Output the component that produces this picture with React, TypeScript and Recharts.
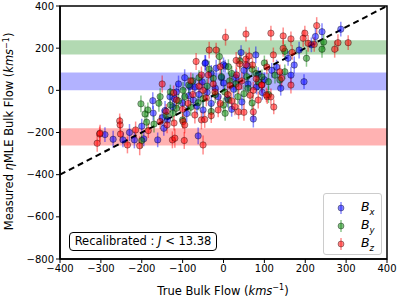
import React from 'react';
import {
  ComposedChart,
  Scatter,
  ErrorBar,
  XAxis,
  YAxis,
  ReferenceArea,
  ReferenceLine,
} from 'recharts';

const bxPoints: [number, number, number][] = [
  [-290, -210, 35], [-270, -232, 40], [-246, -235, 35], [-218, -235, 40], [-195, -230, 35],
  [-161, -235, 35], [-173, -49, 40], [-172, -108, 35], [-143, -96, 45], [-131, -30, 40],
  [-146, -180, 35], [-137, -140, 40], [-44, 131, 35], [-18, 105, 40], [59, 116, 35],
  [4, 115, 30], [-82, 19, 40], [-70, 15, 35], [-115, -8, 40], [81, 16, 35],
  [-52, 40, 40], [-74, -46, 35], [-30, -62, 40], [-50, -93, 45], [-124, -78, 35],
  [-62, -216, 40], [-13, -30, 35], [241, 278, 40], [287, 290, 35], [225, 255, 40],
  [215, 216, 35], [185, 191, 40], [158, 152, 35], [173, 120, 40], [197, 41, 35],
  [165, 72, 40], [118, 95, 35], [73, -136, 40], [-45, 128, 40], [43, 179, 35],
  [79, 168, 40], [0, 121, 35], [-100, -60, 40], [-20, 10, 35], [30, 60, 40],
  [100, 50, 35], [-60, -20, 35], [10, -40, 40], [60, 30, 35], [-90, -110, 40],
  [130, 110, 35], [-30, 80, 40], [20, -90, 35], [-150, -130, 40], [-200, -170, 35],
  [-230, -200, 40], [50, 95, 35], [-110, 30, 40], [140, 10, 35], [-5, 60, 40],
  [-85, -25, 40], [-40, -10, 35], [25, 5, 40], [45, -55, 35], [-95, 60, 40],
  [85, 75, 35], [-65, -75, 40], [0, 35, 35], [-120, -40, 40], [95, -10, 35],
];

const byPoints: [number, number, number][] = [
  [-200, -238, 35], [-202, -64, 40], [-185, -93, 35], [-192, -112, 40], [-188, -151, 35],
  [-158, -61, 40], [-130, -8, 35], [12, 112, 35], [-99, 0, 40], [3, -8, 35],
  [50, -16, 40], [-25, 57, 35], [-5, 65, 40], [57, 65, 35], [-95, -30, 40],
  [-62, -59, 35], [12, -46, 40], [4, -109, 35], [-124, -109, 40], [245, 229, 35],
  [241, 195, 40], [150, 185, 35], [203, 152, 40], [150, 88, 35], [126, 72, 40],
  [94, 64, 35], [110, 41, 40], [138, 49, 35], [-80, -80, 40], [-40, 20, 35],
  [30, 30, 40], [80, 80, 35], [-110, -50, 35], [-20, -20, 40], [60, 10, 35],
  [-140, -120, 40], [100, 130, 35], [-60, 60, 35], [-30, -100, 40], [20, 80, 35],
  [-170, -160, 40], [70, -60, 35], [-100, -140, 35], [40, 140, 40], [-75, 45, 35],
  [110, -20, 40], [-130, -70, 35], [-10, 160, 40], [-50, -40, 40], [35, -30, 35],
  [-85, 25, 40], [15, 45, 35], [85, 40, 40], [-115, -85, 35], [-35, 100, 40],
  [70, 100, 35], [-155, -30, 40], [0, -70, 35],
];

const bzPoints: [number, number, number][] = [
  [-150, 30, 40], [-254, -145, 35], [-253, -164, 40], [-303, -207, 35], [-309, -251, 40],
  [-235, -259, 40], [-252, -207, 35], [-215, -188, 40], [-205, -263, 45], [-184, -191, 35],
  [-125, -235, 40], [-155, -148, 35], [-138, -164, 40], [-121, -155, 35], [-67, 137, 40],
  [-8, 112, 35], [40, 125, 40], [71, 120, 35], [-54, 73, 40], [-122, -12, 35],
  [-50, 0, 40], [-21, -8, 35], [16, 24, 40], [37, 17, 35], [73, 0, 40],
  [65, -23, 35], [-37, 73, 40], [32, 73, 35], [-115, -46, 40], [-87, -62, 35],
  [-42, -36, 40], [-8, -62, 35], [28, -78, 40], [37, -102, 35], [50, -104, 40],
  [-13, -93, 35], [-70, -117, 40], [-54, -140, 45], [-46, -138, 40], [-99, -148, 35],
  [-95, -164, 40], [-119, -227, 45], [-96, -238, 40], [-50, -259, 45], [228, 307, 40],
  [116, 271, 35], [146, 258, 40], [199, 271, 35], [195, 247, 40], [165, 244, 35],
  [207, 223, 40], [222, 218, 35], [280, 226, 40], [305, 226, 35], [272, 195, 40],
  [168, 180, 35], [146, 199, 40], [122, 168, 35], [142, 57, 40], [138, 88, 35],
  [165, 25, 40], [106, 111, 35], [94, 25, 40], [107, -30, 35], [85, -46, 40],
  [123, -79, 35], [116, -31, 40], [105, -22, 35], [73, -102, 40], [93, 26, 35],
  [5, 252, 40], [55, 267, 35], [-35, 191, 40], [-18, 191, 35], [31, 142, 40],
  [55, 148, 35], [63, 163, 40], [55, 121, 35], [-302, -203, 40], [-75, -20, 40],
  [-25, 30, 35], [10, -20, 40], [-100, -90, 35], [45, 45, 40], [-60, 20, 35],
  [20, -50, 40], [-140, -100, 35], [80, 55, 40], [-30, -120, 35], [-80, 45, 40],
];

// horizontal bands [low, high]
const bzBand = [-262, -180];
const bxBand = [0, 85];
const byBand = [170, 238];

const xTicks = [-400, -300, -200, -100, 0, 100, 200, 300, 400];
const yTicks = [-800, -600, -400, -200, 0, 200, 400];

const toRows = (pts: [number, number, number][]) => pts.map(([x, y, err]) => ({ x, y, err }));

const FONT = '"DejaVu Sans", sans-serif';
const fmt = (v: number) => String(v).replace('-', '\u2212');

const dot = (color: string) => (props: any) => (
  <circle
    cx={props.cx}
    cy={props.cy}
    r={3.2}
    fill={color}
    fillOpacity={0.5}
    stroke="#000"
    strokeOpacity={0.45}
    strokeWidth={0.8}
  />
);

const series = [
  { name: 'x', color: '#0000ff', bar: 'rgba(0,0,255,0.45)', data: toRows(bxPoints) },
  { name: 'y', color: '#008000', bar: 'rgba(0,128,0,0.45)', data: toRows(byPoints) },
  { name: 'z', color: '#ff0000', bar: 'rgba(255,0,0,0.45)', data: toRows(bzPoints) },
];

export default function App() {
  return (
    <div style={{ position: 'relative', width: 399, height: 299, fontFamily: FONT, background: '#fff' }}>
      <style>{`body{margin:0}`}</style>
      <ComposedChart width={399} height={299} margin={{ top: 6, right: 12, bottom: 15, left: 10 }}>
        <XAxis
          type="number"
          dataKey="x"
          domain={[-400, 400]}
          ticks={xTicks}
          allowDataOverflow
          tickFormatter={fmt}
          tickSize={4}
          height={25}
          axisLine={{ stroke: '#000', strokeWidth: 1.5 }}
          tickLine={{ stroke: '#000' }}
          tick={{ fill: '#000', fontSize: 10, fontFamily: FONT }}
        />
        <YAxis
          type="number"
          dataKey="y"
          domain={[-800, 400]}
          ticks={yTicks}
          allowDataOverflow
          tickFormatter={fmt}
          tickSize={4}
          width={50}
          axisLine={{ stroke: '#000', strokeWidth: 1.5 }}
          tickLine={{ stroke: '#000' }}
          tick={{ fill: '#000', fontSize: 10, fontFamily: FONT }}
        />
        <ReferenceArea y1={byBand[0]} y2={byBand[1]} x1={-400} x2={400} fill="#008000" fillOpacity={0.3} stroke="none" />
        <ReferenceArea y1={bxBand[0]} y2={bxBand[1]} x1={-400} x2={400} fill="#0000ff" fillOpacity={0.3} stroke="none" />
        <ReferenceArea y1={bzBand[0]} y2={bzBand[1]} x1={-400} x2={400} fill="#ff0000" fillOpacity={0.3} stroke="none" />
        {series.map((s) => (
          <Scatter key={s.name} data={s.data} shape={dot(s.color)} isAnimationActive={false}>
            <ErrorBar dataKey="err" direction="y" width={0} stroke={s.bar} strokeWidth={1.5} />
          </Scatter>
        ))}
        <ReferenceLine
          segment={[{ x: -400, y: -400 }, { x: 400, y: 400 }]}
          stroke="#000"
          strokeWidth={2}
          strokeDasharray="6 4"
        />
        <ReferenceArea x1={-400} x2={400} y1={-800} y2={400} fill="none" stroke="#000" strokeWidth={1.5} />
      </ComposedChart>

      {/* text box */}
      <div
        style={{
          position: 'absolute',
          left: 69,
          top: 232,
          width: 146,
          height: 17,
          border: '1px solid #000',
          borderRadius: 4,
          fontSize: 11.5,
          lineHeight: '17px',
          textAlign: 'center',
          background: '#fff',
        }}
      >
        Recalibrated : <i>J</i> &lt; 13.38
      </div>

      {/* legend */}
      <div
        style={{
          position: 'absolute',
          left: 323,
          top: 193,
          width: 57,
          height: 60,
          border: '1px solid #ccc',
          borderRadius: 3,
          background: 'rgba(255,255,255,0.8)',
        }}
      >
        {series.map((s, i) => (
          <div key={s.name} style={{ position: 'absolute', left: 0, top: 5 + i * 18, height: 18, width: 57 }}>
            <svg width={20} height={18} style={{ position: 'absolute', left: 9, top: 0 }}>
              <line x1={8} x2={8} y1={3} y2={15} stroke={s.bar} strokeWidth={1.5} />
              <circle cx={8} cy={9} r={3} fill={s.color} fillOpacity={0.5} stroke="#000" strokeOpacity={0.45} strokeWidth={0.8} />
            </svg>
            <span style={{ position: 'absolute', left: 37, top: 0, fontSize: 12.5, fontStyle: 'italic' }}>
              B<sub style={{ fontSize: 8.5 }}>{s.name}</sub>
            </span>
          </div>
        ))}
      </div>

      {/* axis labels */}
      <div style={{ position: 'absolute', left: 73, top: 283, width: 300, textAlign: 'center', fontSize: 11.5 }}>
        True Bulk Flow (<i>kms</i>
        <sup style={{ fontSize: 8 }}>{'\u22121'}</sup>)
      </div>
      <div
        style={{
          position: 'absolute',
          left: 9 - 150,
          top: 124,
          width: 300,
          textAlign: 'center',
          fontSize: 11.5,
          transform: 'rotate(-90deg)',
          whiteSpace: 'nowrap',
        }}
      >
        Measured <i>η</i>MLE Bulk Flow (<i>kms</i>
        <sup style={{ fontSize: 8 }}>{'\u22121'}</sup>)
      </div>
    </div>
  );
}
